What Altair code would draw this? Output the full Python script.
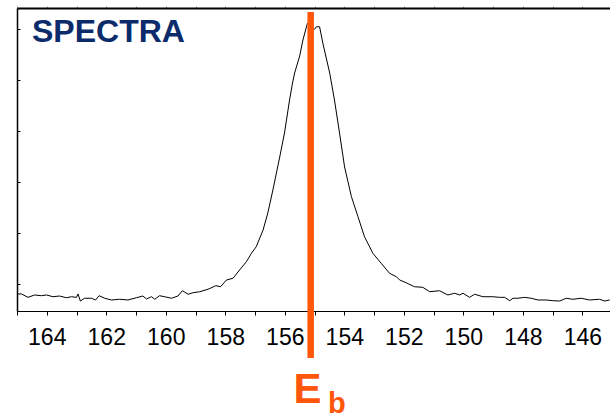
import altair as alt
import pandas as pd

# Binding energy (eV) and intensity (kcounts, arbitrary)
energy = [165.00, 164.85, 164.63, 164.41, 164.18, 164.01, 163.79, 163.57, 163.34, 163.17,
          163.00, 162.95, 162.87, 162.73, 162.50, 162.36, 162.24, 162.05, 161.83, 161.55,
          161.27, 160.99, 160.77, 160.65, 160.48, 160.37, 160.21, 160.04, 159.81, 159.59,
          159.44, 159.25, 159.09, 158.86, 158.58, 158.32, 158.16, 157.96, 157.74, 157.52,
          157.29, 157.12, 156.96, 156.73, 156.57, 156.40, 156.17, 156.01, 155.84, 155.74,
          155.67, 155.50, 155.39, 155.24, 155.00, 154.94, 154.83, 154.72, 154.49, 154.33,
          154.16, 153.99, 153.76, 153.54, 153.32, 153.04, 152.76, 152.48, 152.25, 152.14,
          151.92, 151.64, 151.36, 151.13, 150.80, 150.52, 150.29, 150.12, 150.01, 149.79,
          149.62, 149.34, 149.01, 148.78, 148.61, 148.44, 148.33, 148.17, 147.94, 147.72,
          147.49, 147.21, 146.99, 146.76, 146.54, 146.32, 146.04, 145.76, 145.42, 145.25,
          145.08]
intensity = [4.05, 4.05, 3.72, 3.95, 3.88, 3.95, 3.78, 3.85, 3.68, 3.78,
             3.72, 4.05, 3.36, 3.63, 3.63, 3.46, 3.88, 3.63, 3.46, 3.53,
             3.46, 3.68, 3.85, 3.56, 3.78, 3.53, 3.88, 3.78, 3.63, 3.85,
             4.37, 4.02, 4.17, 4.27, 4.51, 4.86, 4.76, 5.42, 5.59, 6.40,
             7.21, 8.04, 8.68, 10.32, 11.99, 14.24, 17.48, 19.83, 23.07, 24.73,
             25.71, 27.38, 28.95, 30.59, 30.00, 30.25, 30.25, 28.63, 25.71, 23.07,
             19.83, 16.50, 13.59, 11.63, 9.66, 8.04, 7.06, 6.08, 5.74, 5.42,
             5.15, 4.76, 4.70, 4.27, 4.37, 3.95, 4.12, 3.95, 4.12, 3.72,
             4.02, 3.78, 3.78, 3.72, 3.72, 3.39, 3.63, 3.63, 3.72, 3.63,
             3.46, 3.46, 3.39, 3.36, 3.63, 3.53, 3.63, 3.46, 3.53, 3.36,
             3.46]

x_ticks = list(range(146, 166))
y_ticks = [5, 10, 15, 20, 25, 30]
x_domain = [165, 145.07]
y_domain = [2.38, 32.09]
eb_energy = [155.13]
title_text = "SPECTRA"
eb_main = "E"
eb_sub = "b"

ORANGE = "#FF560A"
NAVY = "#0B2B6B"

df = pd.DataFrame({"energy": energy, "intensity": intensity})
eb_df = pd.DataFrame({"eb": eb_energy})

x_scale = alt.Scale(domain=x_domain, nice=False, zero=False)
y_scale = alt.Scale(domain=y_domain, nice=False, zero=False)

line = alt.Chart(df).mark_line(color="black", strokeWidth=1).encode(
    x=alt.X("energy:Q", scale=x_scale,
            axis=alt.Axis(orient="bottom", values=x_ticks, title=None,
                          labelExpr="datum.value % 2 == 0 ? format(datum.value, 'd') : ''",
                          labelFont="Liberation Sans Narrow, Liberation Sans, sans-serif",
                          labelFontSize=23,
                          labelColor="black", labelPadding=11, labelOverlap=False,
                          labelFlush=False, tickSize=4, tickColor="black",
                          domainColor="black", domainWidth=1.2, grid=False)),
    y=alt.Y("intensity:Q", scale=y_scale,
            axis=alt.Axis(orient="right", offset=-593, values=y_ticks, title=None,
                          labels=False, tickSize=3, tickColor="black",
                          domainColor="black", domainWidth=1.5, grid=False)),
)

rule = alt.Chart(eb_df).mark_rule(color=ORANGE, strokeWidth=6.5).encode(
    x=alt.X("eb:Q", scale=x_scale,
            axis=alt.Axis(orient="top", values=x_ticks, title=None, labels=False,
                          tickSize=2, tickColor="#999999", domainColor="black",
                          domainWidth=2, grid=False)),
    y=alt.value(4),
    y2=alt.value(350),
)

title = alt.Chart(pd.DataFrame({"t": [title_text]})).mark_text(
    font="Liberation Sans", fontWeight="bold", fontSize=32, color=NAVY,
    align="left", baseline="alphabetic"
).encode(x=alt.value(15), y=alt.value(34), text="t:N")

eb_e = alt.Chart(pd.DataFrame({"t": [eb_main]})).mark_text(
    font="Liberation Sans", fontWeight="bold", fontSize=42, color=ORANGE,
    align="left", baseline="alphabetic"
).encode(x=alt.value(276.5), y=alt.value(395.3), text="t:N")

eb_b = alt.Chart(pd.DataFrame({"t": [eb_sub]})).mark_text(
    font="Liberation Sans", fontWeight="bold", fontSize=29, color=ORANGE,
    align="left", baseline="alphabetic"
).encode(x=alt.value(311), y=alt.value(404.5), text="t:N")

chart = alt.layer(line, rule, title, eb_e, eb_b).resolve_axis(x="independent").properties(
    width=593, height=303,
    autosize=alt.AutoSizeParams(type="none"),
    padding={"left": 17, "top": 8, "right": 0, "bottom": 108},
).configure_view(stroke=None)

chart.save("out.html", embed_options={"renderer": "svg", "actions": False})
